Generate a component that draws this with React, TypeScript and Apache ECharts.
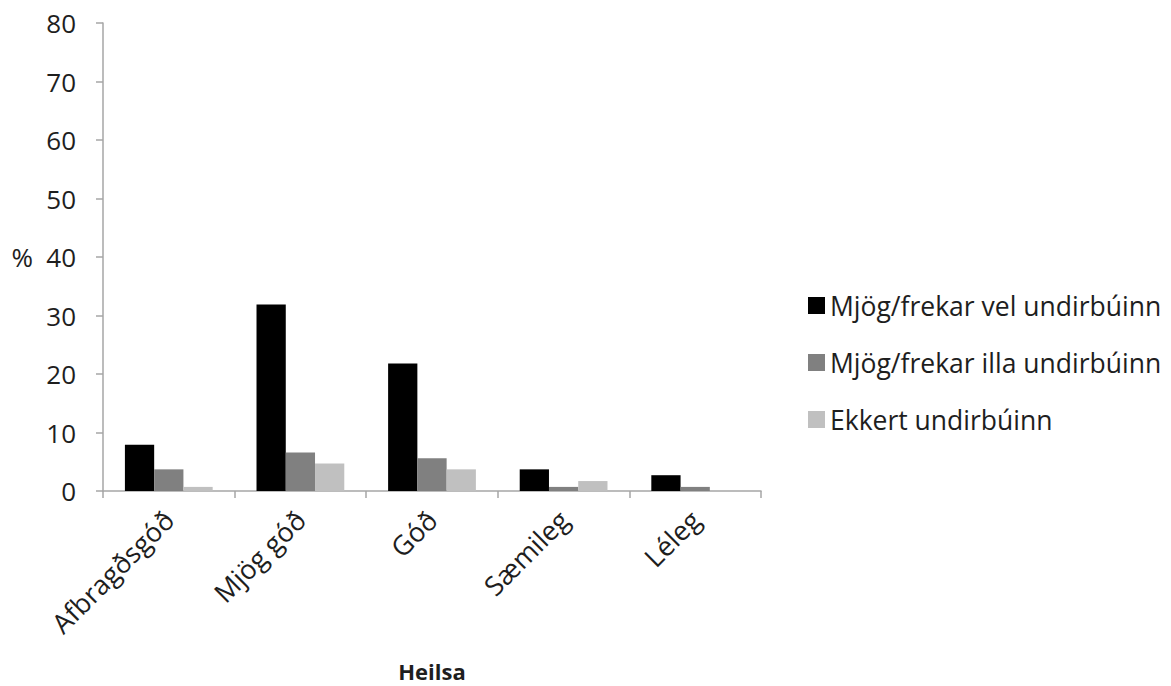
import React, { useEffect, useRef } from "react";
import * as echarts from "echarts";

const categories = ["Afbragðsgóð", "Mjög góð", "Góð", "Sæmileg", "Léleg"];
const seriesNames = ["Mjög/frekar vel undirbúinn", "Mjög/frekar illa undirbúinn", "Ekkert undirbúinn"];
const velValues = [7.9, 31.9, 21.8, 3.7, 2.7];
const illaValues = [3.7, 6.6, 5.6, 0.7, 0.7];
const ekkertValues = [0.7, 4.7, 3.7, 1.7, 0];
const colors = ["#000000", "#808080", "#c0c0c0"];

const FONT = "Open Sans";
const TXT = "#1e1e1e";

export default function App() {
  const ref = useRef<HTMLDivElement>(null);
  useEffect(() => {
    if (!ref.current) return;
    const chart = echarts.init(ref.current, undefined, { renderer: "svg" });
    const data = [velValues, illaValues, ekkertValues];
    chart.setOption({
      animation: false,
      backgroundColor: "#ffffff",
      textStyle: { fontFamily: FONT },
      grid: { left: 103, right: 410, top: 23, bottom: 195, containLabel: false, outerBoundsMode: "none" },
      legend: {
        orient: "vertical",
        left: 803,
        top: 287,
        itemWidth: 17,
        itemHeight: 17,
        itemGap: 30,
        icon: "rect",
        textStyle: { fontFamily: FONT, fontSize: 26.5, color: TXT },
        data: seriesNames,
      },
      xAxis: {
        type: "category",
        data: categories,
        name: "Heilsa",
        nameLocation: "middle",
        nameGap: 168,
        nameTextStyle: { fontFamily: FONT, fontSize: 22, lineHeight: 24, fontWeight: "bold", color: TXT },
        axisLine: { lineStyle: { color: "#a6a6a6", width: 1.5 } },
        axisTick: { show: true, length: 7, lineStyle: { color: "#a6a6a6", width: 1.5 } },
        axisLabel: { rotate: 45, interval: 0, margin: 24, fontFamily: FONT, fontSize: 27, color: TXT },
      },
      yAxis: {
        type: "value",
        min: 0,
        max: 80,
        interval: 10,
        name: "%",
        nameLocation: "middle",
        nameRotate: 0,
        nameGap: 70,
        nameTextStyle: { fontFamily: FONT, fontSize: 26, color: TXT },
        axisLine: { show: true, lineStyle: { color: "#a6a6a6", width: 1.5 } },
        axisTick: { show: true, length: 7, lineStyle: { color: "#a6a6a6", width: 1.5 } },
        splitLine: { show: false },
        axisLabel: { margin: 27, fontFamily: FONT, fontSize: 26, color: TXT },
      },
      series: seriesNames.map((name, i) => ({
        name,
        type: "bar",
        data: data[i],
        barGap: "0%",
        barCategoryGap: "33.3%",
        itemStyle: { color: colors[i] },
      })),
    });
    return () => chart.dispose();
  }, []);
  return <div ref={ref} style={{ width: 1171, height: 686, position: "absolute", left: 0, top: 0 }} />;
}
